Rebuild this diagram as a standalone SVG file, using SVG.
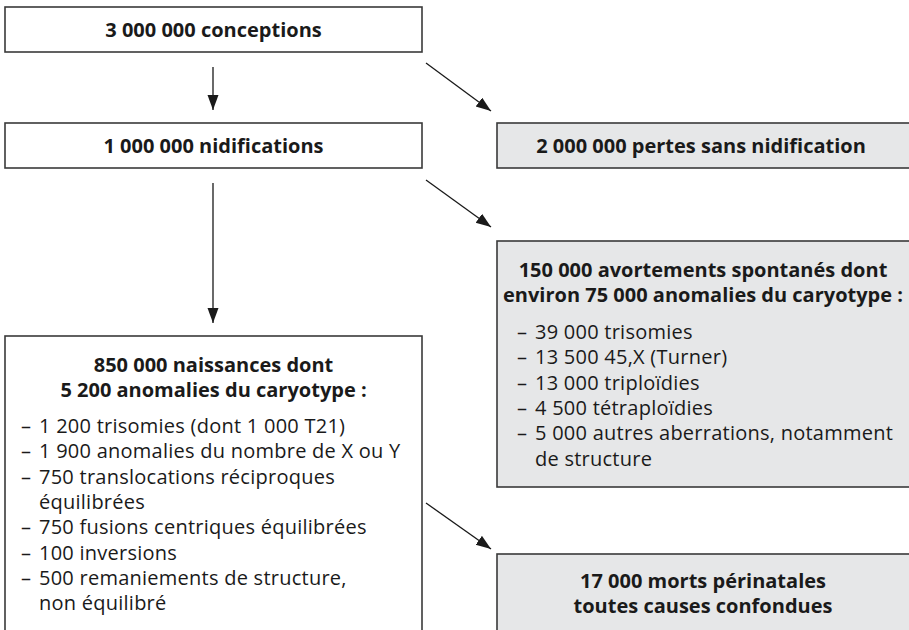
<svg xmlns="http://www.w3.org/2000/svg" width="909" height="630" viewBox="0 0 909 630">
<defs>
<marker id="ah" markerUnits="userSpaceOnUse" markerWidth="16" markerHeight="12" refX="15" refY="5.5" orient="auto">
<path d="M0,0 L15,5.5 L0,11 z" fill="#1a1a1a"/>
</marker>
<style>
.box{fill:#ffffff;stroke:#3a3a3a;stroke-width:1.6}
.gray{fill:#e6e7e8;stroke:#3a3a3a;stroke-width:1.6}
.t{font-family:"Open Sans","Liberation Sans",sans-serif;font-weight:bold;font-size:20px;fill:#1a1a1a;text-anchor:middle}
.l{font-family:"Open Sans","Liberation Sans",sans-serif;font-size:20px;letter-spacing:0.25px;fill:#1a1a1a}
.c{stroke:#1a1a1a;stroke-width:1.3;fill:none;marker-end:url(#ah)}
</style>
</defs>
<g id="conceptions">
<rect class="box" x="5" y="7" width="417" height="45"/>
<text class="t" x="213.5" y="37">3 000 000 conceptions</text>
</g>
<g id="nidifications">
<rect class="box" x="5" y="123" width="417" height="45"/>
<text class="t" x="213.5" y="153">1 000 000 nidifications</text>
</g>
<g id="pertes">
<rect class="gray" x="497" y="123" width="420" height="45"/>
<text class="t" x="701" y="153">2 000 000 pertes sans nidification</text>
</g>
<g id="avortements">
<rect class="gray" x="497" y="241" width="420" height="246"/>
<text class="t"><tspan x="703" y="277">150 000 avortements spontanés dont</tspan><tspan x="703" y="302">environ 75 000 anomalies du caryotype :</tspan></text>
<text class="l"><tspan x="517" y="339">– </tspan><tspan x="535" y="339">39 000 trisomies</tspan><tspan x="517" y="364.3">– </tspan><tspan x="535" y="364.3">13 500 45,X (Turner)</tspan><tspan x="517" y="389.6">– </tspan><tspan x="535" y="389.6">13 000 triploïdies</tspan><tspan x="517" y="414.9">– </tspan><tspan x="535" y="414.9">4 500 tétraploïdies</tspan><tspan x="517" y="440.2">– </tspan><tspan x="535" y="440.2">5 000 autres aberrations, notamment</tspan><tspan x="535" y="465.5">de structure</tspan></text>
</g>
<g id="naissances">
<rect class="box" x="5" y="336" width="417" height="310"/>
<text class="t"><tspan x="213.5" y="372">850 000 naissances dont</tspan><tspan x="213.5" y="397">5 200 anomalies du caryotype :</tspan></text>
<text class="l"><tspan x="21" y="433">– </tspan><tspan x="39" y="433">1 200 trisomies (dont 1 000 T21)</tspan><tspan x="21" y="458.3">– </tspan><tspan x="39" y="458.3">1 900 anomalies du nombre de X ou Y</tspan><tspan x="21" y="483.6">– </tspan><tspan x="39" y="483.6">750 translocations réciproques</tspan><tspan x="39" y="508.9">équilibrées</tspan><tspan x="21" y="534.2">– </tspan><tspan x="39" y="534.2">750 fusions centriques équilibrées</tspan><tspan x="21" y="559.5">– </tspan><tspan x="39" y="559.5">100 inversions</tspan><tspan x="21" y="584.8">– </tspan><tspan x="39" y="584.8">500 remaniements de structure,</tspan><tspan x="39" y="610.1">non équilibré</tspan></text>
</g>
<g id="morts">
<rect class="gray" x="497" y="554" width="420" height="90"/>
<text class="t"><tspan x="703" y="588">17 000 morts périnatales</tspan><tspan x="703" y="613">toutes causes confondues</tspan></text>
</g>
<g id="connectors">
<line class="c" x1="213" y1="67" x2="213" y2="110"/>
<line class="c" x1="426" y1="63" x2="491" y2="111"/>
<line class="c" x1="426" y1="180" x2="491" y2="227"/>
<line class="c" x1="213" y1="183" x2="213" y2="323"/>
<line class="c" x1="426" y1="503" x2="491" y2="549"/>
</g>
</svg>
